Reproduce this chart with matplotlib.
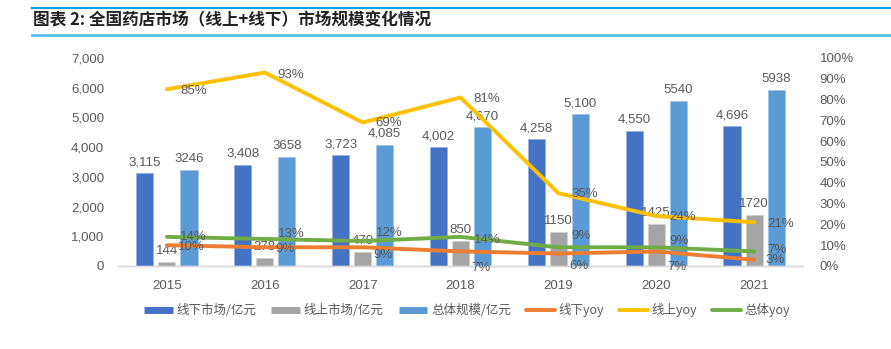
import matplotlib
matplotlib.use('Agg')
import matplotlib.pyplot as plt
from matplotlib.lines import Line2D
from matplotlib.ticker import FuncFormatter
import numpy as np

years = ['2015', '2016', '2017', '2018', '2019', '2020', '2021']
offline = [3115, 3408, 3723, 4002, 4258, 4550, 4696]
online = [144, 278, 470, 850, 1150, 1425, 1720]
total = [3246, 3658, 4085, 4670, 5100, 5540, 5938]
total_labels = ['3246', '3658', '4,085', '4,670', '5,100', '5540', '5938']
offline_yoy = [10, 9, 9, 7, 6, 7, 3]
online_yoy = [85, 93, 69, 81, 35, 24, 21]
total_yoy = [14, 13, 12, 14, 9, 9, 7]

title = '图表 2: 全国药店市场（线上+线下）市场规模变化情况'
names = ['线下市场/亿元', '线上市场/亿元', '总体规模/亿元', '线下yoy', '线上yoy', '总体yoy']

c_off, c_on, c_tot = '#4472C4', '#A5A5A5', '#5B9BD5'
c_off_y, c_on_y, c_tot_y = '#ED7D31', '#FFC000', '#70AD47'
txt = '#595959'

plt.rcParams['font.family'] = ['Liberation Sans', 'Noto Sans CJK SC']

fig = plt.figure(figsize=(8.91, 3.49), dpi=100)
W, H = 891, 349
ax = fig.add_axes([118 / W, 83 / H, 685 / W, 208 / H])
ax2 = ax.twinx()

x = np.arange(len(years))
bw, off = 0.175, 0.225
ax.bar(x - off, offline, bw, color=c_off, edgecolor='#8FAADC', linewidth=0.4)
ax.bar(x, online, bw, color=c_on, edgecolor='#D0D0D0', linewidth=0.4)
ax.bar(x + off, total, bw, color=c_tot, edgecolor='#9DC3E6', linewidth=0.4)

fs = 9.5
for i in range(len(years)):
    ax.annotate(f'{offline[i]:,}', (x[i] - off, offline[i]), xytext=(0, 5),
                textcoords='offset pixels', ha='center', va='bottom', fontsize=fs, color=txt)
    ax.annotate(str(online[i]), (x[i], online[i]), xytext=(0, 5),
                textcoords='offset pixels', ha='center', va='bottom', fontsize=fs, color=txt)
    ax.annotate(total_labels[i], (x[i] + off, total[i]), xytext=(0, 5),
                textcoords='offset pixels', ha='center', va='bottom', fontsize=fs, color=txt)

ax.set_xlim(-0.5, len(years) - 0.5)
ax.set_ylim(0, 7000)
ax.set_yticks(range(0, 7001, 1000))
ax.yaxis.set_major_formatter(FuncFormatter(lambda v, p: f'{int(v):,}'))
ax.set_xticks(x)
ax.set_xticklabels(years)

ax2.set_ylim(0, 100)
ax2.set_yticks(range(0, 101, 10))
ax2.yaxis.set_major_formatter(FuncFormatter(lambda v, p: f'{int(v)}%'))

lw = 2.8
ax2.plot(x, offline_yoy, color=c_off_y, lw=lw, solid_capstyle='round')
ax2.plot(x, online_yoy, color=c_on_y, lw=lw, solid_capstyle='round')
ax2.plot(x, total_yoy, color=c_tot_y, lw=lw, solid_capstyle='round')

dy_on = [-2, -2, -1, -1, -1, -1, -2]
dy_tot = [0, 5, 8, -3, 11, 6, 1]
dy_off = [-2, -2, -8, -17, -12, -16, 0]
for i in range(len(years)):
    ax2.annotate(f'{online_yoy[i]}%', (x[i], online_yoy[i]), xytext=(13, dy_on[i]),
                 textcoords='offset pixels', ha='left', va='center', fontsize=fs, color=txt)
    ax2.annotate(f'{total_yoy[i]}%', (x[i], total_yoy[i]), xytext=(13, dy_tot[i]),
                 textcoords='offset pixels', ha='left', va='center', fontsize=fs, color=txt)
    ax2.annotate(f'{offline_yoy[i]}%', (x[i], offline_yoy[i]), xytext=(11, dy_off[i]),
                 textcoords='offset pixels', ha='left', va='center', fontsize=fs, color=txt)

for a in (ax, ax2):
    for s in ('top', 'left', 'right'):
        a.spines[s].set_visible(False)
    a.spines['bottom'].set_color('#D9D9D9')
    a.spines['bottom'].set_linewidth(1.0)
    a.tick_params(length=0, labelsize=fs, colors=txt)
ax.tick_params(axis='y', pad=10)
ax2.tick_params(axis='y', pad=12)
ax.tick_params(axis='x', pad=10)

handles = [
    Line2D([], [], color=c_off, lw=5, solid_capstyle='butt'),
    Line2D([], [], color=c_on, lw=5, solid_capstyle='butt'),
    Line2D([], [], color=c_tot, lw=5, solid_capstyle='butt'),
    Line2D([], [], color=c_off_y, lw=2.8, solid_capstyle='round'),
    Line2D([], [], color=c_on_y, lw=2.8, solid_capstyle='round'),
    Line2D([], [], color=c_tot_y, lw=2.8, solid_capstyle='round'),
]
fig.legend(handles, names, loc='center', bbox_to_anchor=(467 / W, 1 - 310 / H), ncol=6,
           frameon=False, handlelength=2.3, handletextpad=0.3, columnspacing=1.2,
           prop={'family': ['Noto Sans CJK SC'], 'size': 9}, labelcolor=txt)

fig.text(33 / W, 1 - 20 / H, title, fontsize=12, fontweight='bold', color='#222222',
         family=['Noto Sans CJK SC'], va='center', ha='left')
fig.add_artist(Line2D([32 / W, 1], [1 - 7.5 / H, 1 - 7.5 / H], color='#00A0E9', lw=1.5))
fig.add_artist(Line2D([32 / W, 1], [1 - 34.5 / H, 1 - 34.5 / H], color='#5BC0EB', lw=2))

fig.savefig('out.png', dpi=100)
